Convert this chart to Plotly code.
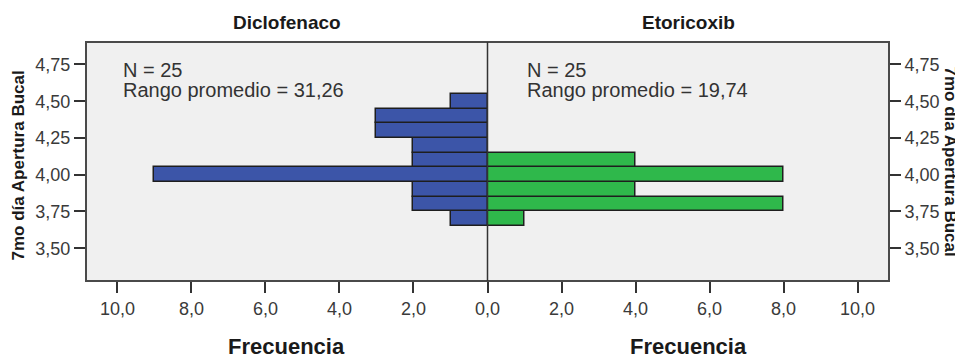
import plotly.graph_objects as go

bins = [3.7, 3.8, 3.9, 4.0, 4.1, 4.2, 4.3, 4.4, 4.5]
diclofenaco = [1, 2, 2, 9, 2, 2, 3, 3, 1]
etoricoxib = [1, 8, 4, 8, 4, 0, 0, 0, 0]
groups = ["Diclofenaco", "Etoricoxib"]
n_lines = ["N = 25", "N = 25"]
rank_lines = ["Rango promedio = 31,26", "Rango promedio = 19,74"]
x_ticks = [0, 2, 4, 6, 8, 10]
y_ticks = [3.50, 3.75, 4.00, 4.25, 4.50, 4.75]

FONT = "Liberation Sans, Arial, sans-serif"
fig = go.Figure()
fig.add_trace(go.Bar(y=bins, x=diclofenaco, orientation="h", width=0.1,
                     marker=dict(color="#3c55a8", line=dict(color="#1e1e1e", width=1.5)),
                     xaxis="x", yaxis="y", showlegend=False))
fig.add_trace(go.Bar(y=bins, x=etoricoxib, orientation="h", width=0.1,
                     marker=dict(color="#2fb84b", line=dict(color="#1e1e1e", width=1.5)),
                     xaxis="x2", yaxis="y2", showlegend=False))

tickfont = dict(family=FONT, size=18, color="#3a3a3a")
xstyle = dict(showgrid=False, zeroline=False, ticks="outside", ticklen=11, tickwidth=2,
              tickcolor="#333", tickfont=tickfont, tickformat=".1f", showline=False)
ystyle = dict(range=[3.277, 4.903], tickvals=y_ticks, tickformat=".2f", ticks="outside",
              ticklen=11, tickwidth=2, tickcolor="#333", tickfont=tickfont,
              showgrid=False, zeroline=False)
fig.update_layout(
    width=963, height=358,
    margin=dict(l=78, r=82, t=34, b=85),
    paper_bgcolor="white", plot_bgcolor="#f0f0f0",
    separators=", ",
    bargap=0,
    xaxis=dict(domain=[0, 0.5], anchor="y", range=[10.85, 0], tickvals=x_ticks, **xstyle),
    xaxis2=dict(domain=[0.5, 1], anchor="y2", range=[0, 10.85], tickvals=x_ticks[1:], **xstyle),
    yaxis=dict(anchor="x", **ystyle),
    yaxis2=dict(matches="y", side="right", anchor="x2", **ystyle),
)

shapes = [
    dict(type="rect", xref="paper", yref="paper", x0=0, x1=1, y0=0, y1=1,
         line=dict(color="#4a4a4a", width=2), fillcolor="rgba(0,0,0,0)", layer="above"),
    dict(type="line", xref="paper", yref="paper", x0=0.5, x1=0.5, y0=0, y1=1,
         line=dict(color="#333333", width=1.5), layer="above"),
]
fig.update_layout(shapes=shapes)

ann = []
for i, g in enumerate(groups):
    ann.append(dict(text="<b>%s</b>" % g, xref="paper", yref="paper", x=0.25 + 0.5 * i, y=1.0,
                    xanchor="center", yanchor="middle", yshift=20, showarrow=False,
                    font=dict(family=FONT, size=19, color="#1a1a1a")))
    ann.append(dict(text="<b>Frecuencia</b>", xref="paper", yref="paper", x=0.25 + 0.5 * i, y=0,
                    xanchor="center", yanchor="middle", yshift=-65, showarrow=False,
                    font=dict(family=FONT, size=22, color="#1a1a1a")))
    for txt, dy in ((n_lines[i], -27.5), (rank_lines[i], -47.5)):
        ann.append(dict(text=txt, xref="paper", yref="paper", x=0.044 + 0.503 * i, y=1.0,
                        xanchor="left", yanchor="middle", yshift=dy, showarrow=False,
                        font=dict(family=FONT, size=20, color="#333")))
ann.append(dict(text="<b>7mo día Apertura Bucal</b>", xref="paper", yref="paper", x=0, y=0.5,
                xanchor="center", yanchor="middle", xshift=-68, yshift=-4, textangle=-90,
                showarrow=False, font=dict(family=FONT, size=17, color="#1a1a1a")))
ann.append(dict(text="<b>7mo día Apertura Bucal</b>", xref="paper", yref="paper", x=1, y=0.5,
                xanchor="center", yanchor="middle", xshift=61, textangle=90,
                showarrow=False, font=dict(family=FONT, size=17, color="#1a1a1a")))
fig.update_layout(annotations=ann)
fig.write_html("out.html")
